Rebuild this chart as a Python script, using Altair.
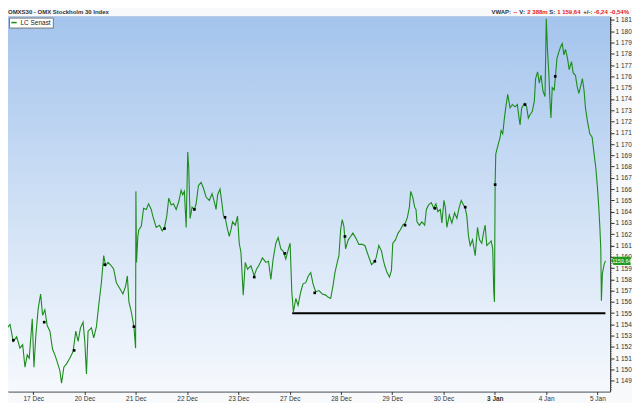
import altair as alt
import pandas as pd

# ---------------- data ----------------
# session position: 0 = 16 Dec open, 1 = 17 Dec open, ... 12 = 5 Jan open
DAY_LABELS = ["17 Dec", "20 Dec", "21 Dec", "22 Dec", "23 Dec", "27 Dec",
              "28 Dec", "29 Dec", "30 Dec", "3 Jan", "4 Jan", "5 Jan"]
DAY_POS = list(range(1, 13))

SESSION = [
    0.431, 0.495, 0.547, 0.611, 0.677, 0.741, 0.794, 0.839, 0.883, 0.922, 0.981,
    1.014, 1.052, 1.097, 1.144, 1.183, 1.227, 1.272, 1.325, 1.377, 1.422, 1.466, 1.519,
    1.552, 1.597, 1.649, 1.713, 1.777, 1.830, 1.875, 1.921, 1.972,
    2.005, 2.038, 2.069, 2.135, 2.180, 2.232, 2.277, 2.329, 2.374, 2.413, 2.458, 2.524,
    2.569, 2.621, 2.685, 2.749, 2.802, 2.835, 2.866, 2.913, 2.963, 2.996,
    3.002, 3.014, 3.040, 3.060, 3.107, 3.152, 3.204, 3.249, 3.301, 3.332, 3.398, 3.463,
    3.515, 3.560, 3.604, 3.643, 3.690, 3.735, 3.787, 3.838, 3.884, 3.915, 3.948, 3.982,
    4.013, 4.032, 4.059, 4.098, 4.143, 4.176, 4.221, 4.273, 4.318, 4.370, 4.434, 4.487,
    4.531, 4.565, 4.596, 4.642, 4.681, 4.707, 4.745, 4.790, 4.823, 4.856, 4.887, 4.940, 4.984,
    5.017, 5.050, 5.095, 5.134, 5.179, 5.245, 5.309, 5.354, 5.406, 5.470, 5.536, 5.587,
    5.634, 5.678, 5.731, 5.776, 5.828, 5.873, 5.925, 5.976,
    6.009, 6.042, 6.073, 6.120, 6.164, 6.217, 6.261, 6.314, 6.364, 6.411, 6.456, 6.508,
    6.572, 6.636, 6.703, 6.753, 6.800, 6.844, 6.883, 6.928, 6.961, 6.994,
    7.025, 7.058, 7.091, 7.142, 7.189, 7.233, 7.286, 7.350, 7.414, 7.467, 7.511, 7.558,
    7.597, 7.641, 7.686, 7.739, 7.791, 7.822, 7.855, 7.900, 7.946, 7.985,
    8.011, 8.063, 8.114, 8.160, 8.205, 8.257, 8.296, 8.335, 8.360, 8.399, 8.438, 8.464,
    8.483, 8.530, 8.580, 8.633, 8.666, 8.710, 8.763, 8.808, 8.852, 8.891, 8.938, 8.969,
    9.008, 9.035, 9.066, 9.113, 9.163, 9.216, 9.261, 9.307, 9.346, 9.391, 9.424, 9.455,
    9.488, 9.521, 9.566, 9.618, 9.663, 9.702, 9.746, 9.779, 9.812, 9.844, 9.890, 9.929,
    9.960, 9.980, 9.994,
    10.007, 10.019, 10.057, 10.104, 10.123, 10.155, 10.188, 10.213, 10.252, 10.298, 10.343,
    10.396, 10.440, 10.473, 10.493, 10.524, 10.576, 10.621, 10.654, 10.687, 10.732, 10.771,
    10.796, 10.835, 10.868, 10.901, 10.940, 10.979,
    11.004, 11.029, 11.056, 11.076, 11.095, 11.120, 11.159, 11.185, 11.212, 11.251, 11.282,
    11.315, 11.348, 11.379, 11.418, 11.451, 11.496, 11.529, 11.573, 11.606, 11.639, 11.678,
    11.709, 11.742, 11.768, 11.807, 11.853, 11.898, 11.937, 11.970,
    12.001, 12.028, 12.048, 12.067, 12.079, 12.098, 12.131, 12.157,
]

PRICE = [
    1153.9, 1153.7, 1154.0, 1152.5, 1152.9, 1151.9, 1152.2, 1150.2, 1151.3, 1151.0, 1154.5,
    1150.2, 1153.1, 1155.4, 1156.7, 1154.8, 1155.3, 1153.9, 1153.4, 1151.8, 1151.3, 1150.7, 1149.9,
    1148.8, 1150.2, 1150.5, 1151.0, 1151.6, 1153.4, 1152.5, 1153.7, 1154.2,
    1152.5, 1149.6, 1153.4, 1153.7, 1152.8, 1153.8, 1155.7, 1157.7, 1160.1, 1159.2, 1159.5, 1159.2,
    1158.9, 1157.7, 1157.2, 1156.7, 1157.4, 1158.3, 1156.0, 1155.1, 1153.8, 1151.9,
    1165.8, 1159.5, 1161.8, 1162.4, 1162.7, 1164.3, 1164.2, 1164.7, 1164.2, 1163.6, 1162.6, 1162.8,
    1162.3, 1162.6, 1163.6, 1165.2, 1164.6, 1164.7, 1164.2, 1164.9, 1165.9, 1165.5, 1165.8, 1162.6,
    1169.3, 1167.9, 1163.4, 1164.4, 1164.2, 1164.7, 1166.3, 1166.6, 1166.1, 1165.3, 1165.0, 1165.6,
    1164.9, 1164.2, 1165.5, 1166.0, 1164.7, 1163.7, 1163.4, 1162.4, 1161.8, 1162.4, 1163.1, 1162.8, 1163.6,
    1161.2, 1160.4, 1156.6, 1159.5, 1158.9, 1159.2, 1158.3, 1158.9, 1159.3, 1159.9, 1159.5, 1159.6,
    1158.0, 1159.8, 1161.2, 1161.7, 1160.7, 1160.5, 1159.8, 1160.7,
    1161.2, 1156.9, 1155.1, 1156.3, 1155.7, 1156.9, 1157.6, 1157.7, 1158.3, 1158.6, 1157.6, 1156.9,
    1157.0, 1156.7, 1156.6, 1156.4, 1156.3, 1157.4, 1158.6, 1159.5, 1160.1, 1162.4,
    1163.3, 1162.7, 1160.7, 1161.5, 1161.8, 1162.1, 1161.7, 1161.1, 1161.1, 1161.0, 1160.4, 1159.8,
    1159.3, 1159.5, 1159.9, 1161.0, 1160.5, 1159.8, 1159.2, 1158.6, 1158.2, 1158.8,
    1161.2, 1161.5, 1162.1, 1162.4, 1162.8, 1163.0, 1163.5, 1164.4, 1165.8, 1165.3, 1164.4, 1164.2,
    1163.1, 1162.8, 1163.1, 1162.8, 1164.2, 1164.6, 1164.8, 1164.3, 1164.7, 1164.0, 1164.2, 1163.0,
    1165.0, 1164.4, 1162.6, 1163.7, 1163.0, 1163.9, 1163.4, 1164.4, 1165.0, 1164.6, 1164.3, 1163.6,
    1161.8, 1161.0, 1161.5, 1160.1, 1162.6, 1161.5, 1161.2, 1162.1, 1162.8, 1161.0, 1161.2, 1161.4,
    1160.7, 1156.9, 1156.0,
    1166.5, 1169.1, 1169.8, 1170.6, 1171.2, 1170.9, 1172.3, 1173.2, 1174.4, 1173.2, 1173.5,
    1173.3, 1173.5, 1172.3, 1171.7, 1173.2, 1173.6, 1173.3, 1172.3, 1172.6, 1172.9, 1173.8,
    1175.8, 1176.4, 1175.4, 1176.1, 1174.7, 1174.2,
    1181.1, 1178.2, 1176.1, 1173.8, 1172.3, 1175.0, 1174.8, 1176.1, 1177.6, 1178.2, 1178.6,
    1178.9, 1177.9, 1178.4, 1177.6, 1176.6, 1177.3, 1176.3, 1176.1, 1175.1, 1174.5, 1175.2,
    1175.8, 1174.7, 1173.2, 1172.0, 1170.9, 1170.6, 1169.1, 1167.9,
    1166.2, 1164.4, 1162.7, 1160.7, 1156.1, 1158.5, 1159.3, 1159.64,
]

MARK_SESSION = [0.611, 1.214, 1.797, 2.394, 2.963, 3.560, 4.143, 4.740, 5.309, 5.906,
                6.489, 7.078, 7.661, 8.250, 8.833, 9.424, 10.007, 10.590, 11.179]
MARK_PRICE = [1152.6, 1154.2, 1151.7, 1159.3, 1153.8, 1162.5, 1164.2, 1163.5, 1158.2, 1160.3,
              1156.8, 1161.8, 1159.6, 1162.8, 1164.3, 1164.4, 1166.4, 1173.5, 1176.0]

SUPPORT_LEVEL = [1155.0]
SUPPORT_FROM = [6.05]
SUPPORT_TO = [12.157]
LAST_PRICE = [1159.64]
Y_TICKS = list(range(1149, 1182))
MINOR_TICKS = [round(1148.2 + 0.2 * i, 1) for i in range(166)]

SERIES_NAME = "LC Senast"
TITLE_LEFT = "OMXS30 - OMX Stockholm 30 Index"
HEADER_RIGHT = [("VWAP:", "#333333", 485), ("--", "#e8201c", 507), ("V:", "#333333", 513),
                ("2 388m", "#e8201c", 521), ("S:", "#333333", 543), ("1 159,64", "#e8201c", 551),
                ("+/-:", "#333333", 577), ("-6,24", "#e8201c", 588), ("-0,54%", "#e8201c", 604)]

# ---------------- layout ----------------
W, H = 604, 376
X_DOM = [0.508, 12.248]
Y_DOM = [1148.06, 1181.3]
FONT = "Liberation Sans, Arial"
GREEN = "#1c8c1c"

xscale = alt.Scale(domain=X_DOM, nice=False, zero=False)
yscale = alt.Scale(domain=Y_DOM, nice=False, zero=False)

label_expr = "[" + ",".join("'%s'" % d for d in DAY_LABELS) + "][datum.value - 1]"

x_axis = alt.Axis(values=DAY_POS, labelExpr=label_expr, grid=True, title=None,
                  gridColor="#c2c8d0", gridWidth=1.3, tickColor="#333333",
                  tickSize=3, domainColor="#333333", labelFont=FONT,
                  labelFontSize=6.5, labelColor="#333333", labelPadding=1,
                  labelOverlap=False,
                  labelFontWeight={"condition": {"test": "datum.value == 10", "value": "bold"},
                                   "value": "normal"})
y_axis = alt.Axis(orient="right", values=Y_TICKS, grid=True, gridDash=[1, 2], title=None,
                  gridColor="#aab4c0", tickColor="#333333", tickSize=4,
                  domainColor="#333333", labelFont=FONT, labelFontSize=6.5,
                  labelColor="#333333", labelPadding=1, labelOverlap=False,
                  labelBound=False,
                  labelExpr="replace(format(datum.value, ','), ',', ' ')")

df = pd.DataFrame({"session": SESSION, "price": PRICE, "series": SERIES_NAME})
dots = pd.DataFrame({"session": MARK_SESSION, "price": MARK_PRICE})
support = pd.DataFrame({"s1": SUPPORT_FROM, "s2": SUPPORT_TO, "price": SUPPORT_LEVEL})
last = pd.DataFrame({"price": LAST_PRICE})
minor = pd.DataFrame({"m": MINOR_TICKS})
one = pd.DataFrame({"a": [0]})

bg = alt.Chart(one).mark_rect(
    fill=alt.Gradient(gradient="linear", x1=0, x2=0, y1=0, y2=1,
                      stops=[alt.GradientStop(offset=0, color="#a4c4ed"),
                             alt.GradientStop(offset=0.5, color="#cfe0f5"),
                             alt.GradientStop(offset=1, color="#f6f9fd")])
).encode(x=alt.value(0), x2=alt.value(W), y=alt.value(0), y2=alt.value(H))

line = alt.Chart(df).mark_line(strokeWidth=1.1, clip=True, interpolate="linear").encode(
    x=alt.X("session:Q", scale=xscale, axis=x_axis),
    y=alt.Y("price:Q", scale=yscale, axis=y_axis),
    color=alt.Color("series:N", scale=alt.Scale(domain=[SERIES_NAME], range=[GREEN]),
                    legend=alt.Legend(orient="top-left", offset=1, title=None, padding=1.5,
                                      fillColor="white", strokeColor="#777777",
                                      symbolType="stroke", symbolStrokeWidth=1.5,
                                      symbolSize=30, labelFont=FONT, labelFontSize=6.5,
                                      labelOffset=3, labelColor="#222222", rowPadding=0)),
)

rule = alt.Chart(support).mark_rule(color="black", strokeWidth=2).encode(
    x=alt.X("s1:Q", scale=xscale, axis=x_axis), x2="s2:Q",
    y=alt.Y("price:Q", scale=yscale, axis=y_axis))

pts = alt.Chart(dots).mark_square(size=7, color="black", opacity=1).encode(
    x=alt.X("session:Q", scale=xscale, axis=x_axis),
    y=alt.Y("price:Q", scale=yscale, axis=y_axis))

minor_ticks = alt.Chart(minor).mark_rule(color="#444444", strokeWidth=0.6).encode(
    x=alt.value(W), x2=alt.value(W + 2), y=alt.Y("m:Q", scale=yscale, axis=y_axis))

TAG = "M-1,0L-0.74,-0.42L1,-0.42L1,0.42L-0.74,0.42Z"
tag = alt.Chart(last).mark_point(shape=TAG, filled=True, opacity=1, color="#1f9a1f",
                                 size=384, strokeWidth=0).encode(
    x=alt.value(W + 10.8), y=alt.Y("price:Q", scale=yscale, axis=y_axis))
tag_text = alt.Chart(last).transform_calculate(
    lbl="replace(format(datum.price, '.2f'), '.', ',')"
).mark_text(color="white", fontSize=5.5, font=FONT, align="center", baseline="middle").encode(
    x=alt.value(W + 11.8), y=alt.Y("price:Q", scale=yscale, axis=y_axis), text="lbl:N")

headers = [alt.Chart(one).mark_text(text=TITLE_LEFT, align="left", baseline="middle",
                                    font=FONT, fontSize=6, fontWeight="bold",
                                    color="#333333").encode(x=alt.value(0), y=alt.value(-5))]
for txt, col, xp in HEADER_RIGHT:
    headers.append(alt.Chart(one).mark_text(text=txt, align="left", baseline="middle",
                                            font=FONT, fontSize=6, fontWeight="bold",
                                            color=col).encode(x=alt.value(xp), y=alt.value(-5)))

chart = alt.layer(bg, line, rule, pts, minor_ticks, tag, tag_text, *headers).properties(
    width=W, height=H, padding=0, background="#f7f9fb"
).configure_view(stroke="#8d99a6", strokeWidth=1).configure_axis(labelOverlap=False)

chart.save("out.html", embed_options={"renderer": "svg", "actions": False})
